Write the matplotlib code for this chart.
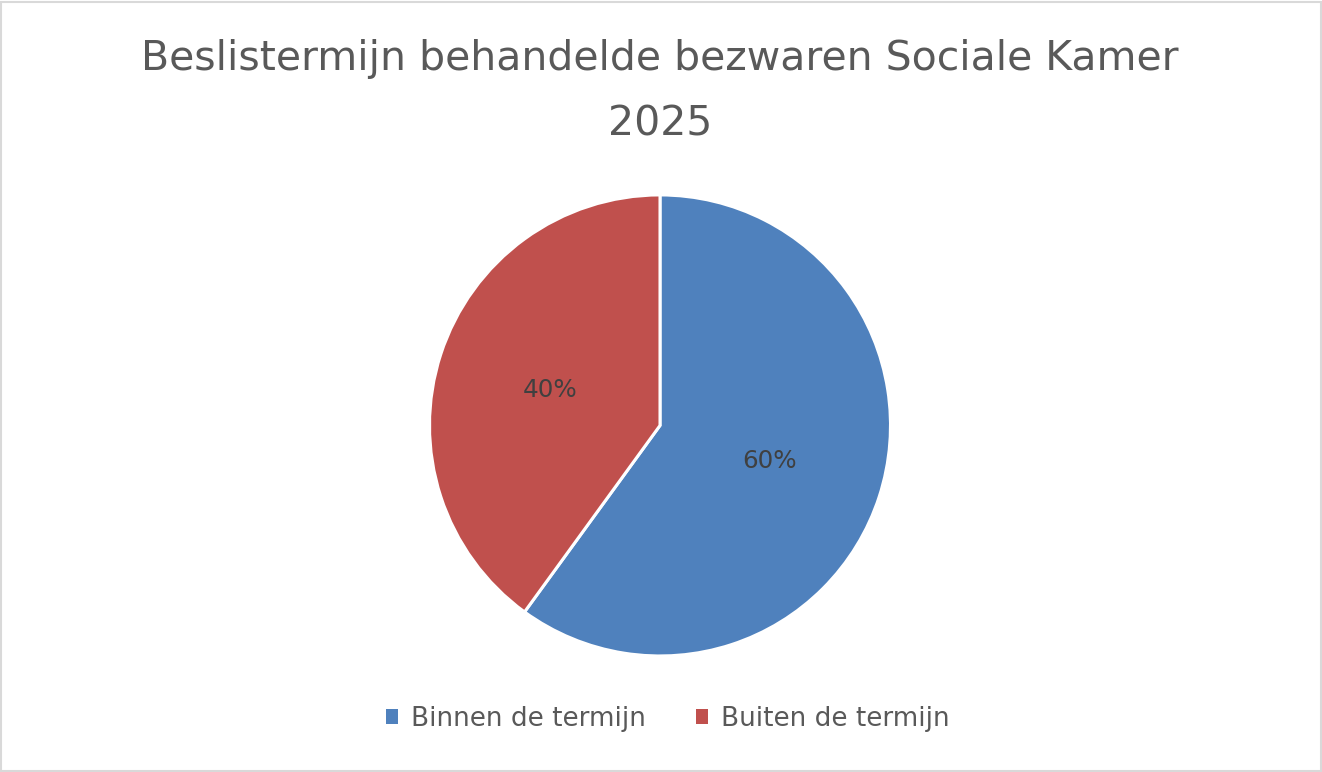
import matplotlib.pyplot as plt
from matplotlib.patches import Rectangle

categories = ['Binnen de termijn', 'Buiten de termijn']
shares = [60, 40]
colors = ['#4F81BD', '#C0504D']

plt.rcParams['font.family'] = ['DejaVu Sans']
text_color = '#595959'

fig = plt.figure(figsize=(13.22, 7.72), dpi=100)

# light grey frame around the chart area
fig.patches.append(Rectangle((0.001, 0.001), 0.998, 0.997, transform=fig.transFigure,
                             fill=False, edgecolor='#D9D9D9', linewidth=1.5))

fig.text(0.4992, 0.924, 'Beslistermijn behandelde bezwaren Sociale Kamer',
         ha='center', va='center', fontsize=29.5, color=text_color)
fig.text(0.4992, 0.839, '2025', ha='center', va='center', fontsize=29.5, color=text_color)

# pie axes: centre (660, 425) px, radius ~230 px
ax = fig.add_axes([0.3249, 0.1503, 0.3487, 0.5972])
wedges, texts, autotexts = ax.pie(
    shares, colors=colors, startangle=90, counterclock=False,
    autopct='%1.0f%%', pctdistance=0.5,
    wedgeprops=dict(edgecolor='white', linewidth=2.2),
    textprops=dict(color='#404040', fontsize=17.7))
ax.set_xlim(-1.0, 1.0)
ax.set_ylim(-1.0, 1.0)
ax.set_aspect('auto')

leg = fig.legend(wedges, categories, loc='center', bbox_to_anchor=(0.505, 0.069),
                 ncol=2, frameon=False, fontsize=18.9, labelcolor=text_color,
                 handlelength=0.46, handleheight=0.46, handletextpad=0.5,
                 columnspacing=1.9)
# legend squares without the white wedge outline
for h in leg.legend_handles:
    h.set_linewidth(0)

fig.savefig('out.png', dpi=100)
